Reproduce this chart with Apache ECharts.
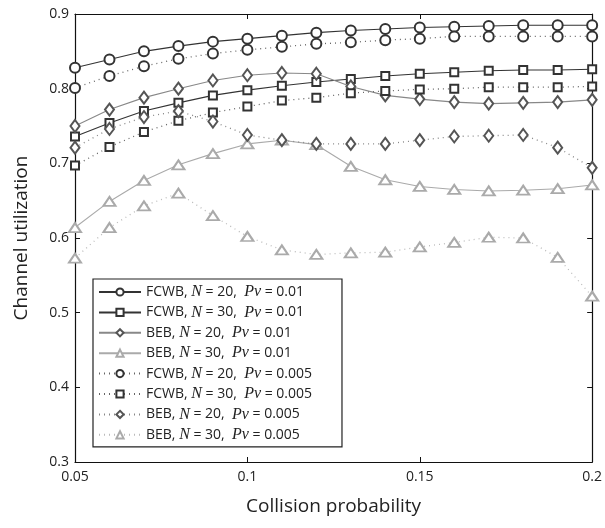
<!DOCTYPE html>
<html><head><meta charset="utf-8">
<script src="https://cdn.jsdelivr.net/npm/echarts@6/dist/echarts.min.js"></script>
<style>html,body{margin:0;padding:0;background:#fff}#c{width:605px;height:528px}</style>
</head><body><div id="c"></div>
<script>
const xValues = [0.05,0.06,0.07,0.08,0.09,0.10,0.11,0.12,0.13,0.14,0.15,0.16,0.17,0.18,0.19,0.20];
const fcwbN20Pv01  = [0.828,0.839,0.850,0.857,0.863,0.867,0.871,0.875,0.878,0.880,0.882,0.883,0.884,0.885,0.885,0.885];
const fcwbN30Pv01  = [0.736,0.754,0.770,0.781,0.791,0.798,0.804,0.809,0.813,0.817,0.820,0.822,0.824,0.825,0.825,0.826];
const bebN20Pv01   = [0.750,0.772,0.788,0.800,0.811,0.818,0.821,0.820,0.803,0.791,0.786,0.782,0.780,0.781,0.782,0.785];
const bebN30Pv01   = [0.614,0.649,0.677,0.698,0.713,0.726,0.731,0.725,0.696,0.678,0.669,0.665,0.663,0.664,0.666,0.671];
const fcwbN20Pv005 = [0.801,0.817,0.830,0.840,0.847,0.852,0.856,0.860,0.862,0.865,0.867,0.870,0.870,0.870,0.870,0.870];
const fcwbN30Pv005 = [0.697,0.722,0.742,0.757,0.768,0.776,0.784,0.788,0.794,0.797,0.799,0.800,0.802,0.802,0.802,0.803];
const bebN20Pv005  = [0.721,0.746,0.762,0.770,0.756,0.738,0.731,0.726,0.726,0.726,0.731,0.736,0.737,0.738,0.721,0.694];
const bebN30Pv005  = [0.573,0.614,0.643,0.660,0.630,0.602,0.584,0.578,0.580,0.581,0.588,0.594,0.601,0.600,0.574,0.522];
const legendMethod = ['FCWB','FCWB','BEB','BEB','FCWB','FCWB','BEB','BEB'];
const legendN = ['20','30','20','30','20','30','20','30'];
const legendPv = ['0.01','0.01','0.01','0.01','0.005','0.005','0.005','0.005'];
const xTicks = ['0.05','0.1','0.15','0.2'];

const allData = [fcwbN20Pv01,fcwbN30Pv01,bebN20Pv01,bebN30Pv01,fcwbN20Pv005,fcwbN30Pv005,bebN20Pv005,bebN30Pv005];
const symbols = ['emptyCircle','emptyRect','emptyDiamond','emptyTriangle','emptyCircle','emptyRect','emptyDiamond','emptyTriangle'];
const sizes = [10,8,[9,12],[12,9],10,8,[9,12],[12,9]];
const lineColors = ['#333','#333','#888','#aaa','#666','#666','#888','#bbb'];
const markColors = ['#333','#333','#555','#aaa','#333','#333','#555','#aaa'];
const names = allData.map((_,i)=>'s'+i);

const series = allData.map((d,i)=>({
  name: names[i], type:'line', xAxisIndex:0, yAxisIndex:0,
  data: d.map((v,j)=>[xValues[j],v]),
  symbol: symbols[i], symbolSize: sizes[i], showAllSymbol:true,
  lineStyle:{color:lineColors[i], width: i<4?1.1:1.3, type: i<4?'solid':[1,4]},
  itemStyle:{color:markColors[i], borderColor:markColors[i], borderWidth:0.8},
  emphasis:{disabled:true},
  animation:false, silent:true, z: 3
}));

const chart = echarts.init(document.getElementById('c'));
const axisLineStyle = {lineStyle:{color:'#111', width:1.2}};
chart.setOption({
  backgroundColor:'#fff',
  animation:false,
  grid:{left:75, right:9, top:14, bottom:66, containLabel:false},
  xAxis:[{
    type:'value', min:0.05, max:0.2, interval:0.05, position:'bottom',
    axisLine:axisLineStyle, axisTick:{inside:true, length:5, lineStyle:{color:'#111'}},
    splitLine:{show:false},
    axisLabel:{fontFamily:'Open Sans', fontSize:14, color:'#222', margin:8,
      formatter:(v)=>{const k=Math.round((v-0.05)/0.05);return xTicks[k]!==undefined?xTicks[k]:'';}},
    name:'Collision probability', nameLocation:'middle', nameGap:35,
    nameTextStyle:{fontFamily:'Open Sans', fontSize:19, color:'#222'}
  },{
    type:'value', min:0.05, max:0.2, interval:0.05, position:'top',
    axisLine:axisLineStyle, axisTick:{inside:true, length:5, lineStyle:{color:'#111'}},
    axisLabel:{show:false}, splitLine:{show:false}
  }],
  yAxis:[{
    type:'value', min:0.3, max:0.9, interval:0.1, position:'left',
    axisLine:{show:true, lineStyle:{color:'#111', width:1.2}}, axisTick:{show:true, inside:true, length:5, lineStyle:{color:'#111'}},
    splitLine:{show:false},
    axisLabel:{fontFamily:'Open Sans', fontSize:14, color:'#222', margin:6, formatter:(v)=>v.toFixed(1)},
    name:'Channel utilization', nameLocation:'middle', nameGap:44, nameRotate:90,
    nameTextStyle:{fontFamily:'Open Sans', fontSize:19, color:'#222'}
  },{
    type:'value', min:0.3, max:0.9, interval:0.1, position:'right',
    axisLine:{show:true, lineStyle:{color:'#111', width:1.2}}, axisTick:{show:true, inside:true, length:5, lineStyle:{color:'#111'}},
    axisLabel:{show:false}, splitLine:{show:false}
  }],
  legend:{
    orient:'vertical', left:93, top:279, data:names,
    itemWidth:42, itemHeight:9, itemGap:4.4, padding:[5,30,4,5],
    backgroundColor:'#fff', borderColor:'#222', borderWidth:1.2, borderRadius:0,
    selectedMode:false,
    formatter:(n)=>{const i=names.indexOf(n);return '{t|'+legendMethod[i]+', }{i|N}{t| = '+legendN[i]+',  }{i|Pv}{t| = '+legendPv[i]+'}';},
    textStyle:{rich:{
      t:{fontFamily:'Open Sans', fontSize:14, color:'#222', lineHeight:14},
      i:{fontFamily:'Liberation Serif', fontStyle:'italic', fontSize:16, color:'#222', lineHeight:14}
    }}
  },
  series: series
});
</script></body></html>
